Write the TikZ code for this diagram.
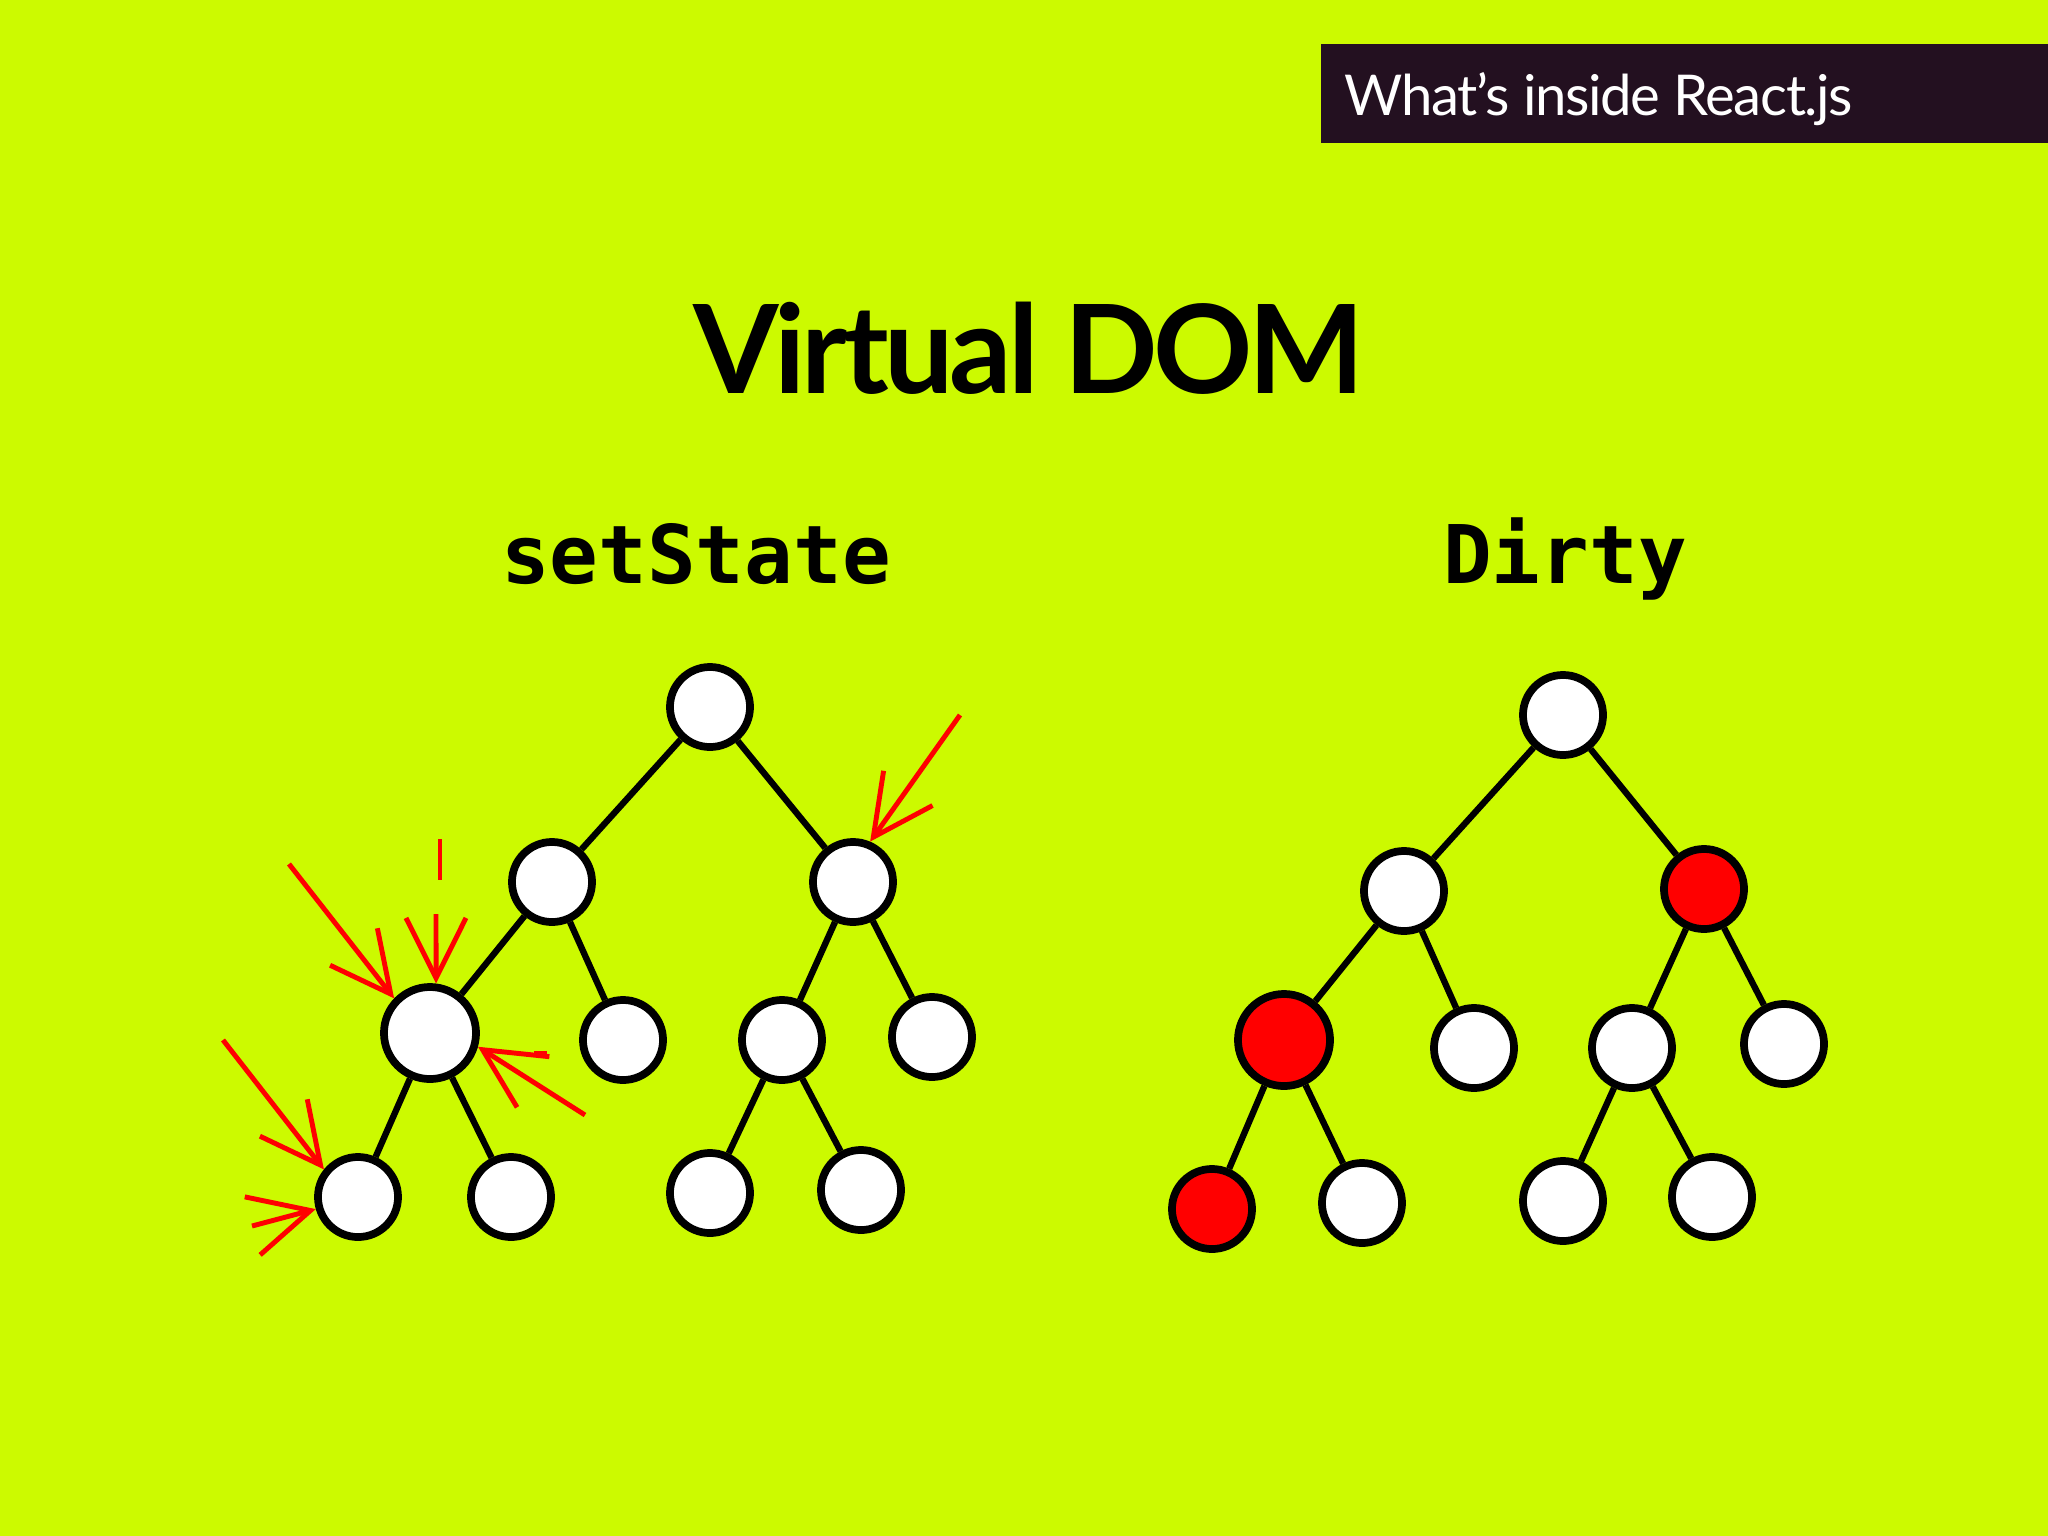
\documentclass[tikz,border=0pt]{standalone}
\usepackage{fontspec}
\setmainfont{Lato}
\newfontfamily\handfont{DejaVu Sans Mono}
\usetikzlibrary{arrows.meta, positioning}
\definecolor{lime}{RGB}{204,250,0}
\definecolor{banner}{RGB}{35,16,32}
\definecolor{dirtyred}{RGB}{255,0,0}

\begin{document}
\begin{tikzpicture}[
    x=0.01cm, y=-0.01cm,
    vnode/.style={
        circle, draw, line width=2.2pt, fill=white,
        minimum size=0.8cm, inner sep=0pt
    },
    bignode/.style={vnode, minimum size=0.92cm},
    dirty/.style={fill=dirtyred},
    edge/.style={line width=1.8pt},
    spark/.style={red, line width=1.4pt, -{Straight Barb[length=6mm, width=6mm]}},
    hand/.style={font=\handfont\bfseries\fontsize{23}{23}\selectfont, anchor=base},
]

\fill[lime] (0,0) rectangle (2048,1536);
\useasboundingbox (0,0) rectangle (2048,1536);

\fill[banner] (1321,44) rectangle (2048,143);
\node[anchor=base west, text=white, font=\fontsize{16}{16}\selectfont\addfontfeature{LetterSpace=-2.4}] (header) at (1332,115) {What’s inside React.js};

\node[anchor=base, font=\bfseries\fontsize{35}{35}\selectfont\addfontfeature{LetterSpace=-3.5}] (title) at (1029,393) {Virtual DOM};

\node[hand] (setstate) at (696,583) {setState};
\node[hand] (dirtylbl) at (1565,583) {Dirty};

\node[vnode]   (lroot) at (710,707) {};
\node[vnode]   (la)    at (552,882) {};
\node[vnode]   (lb)    at (853,882) {};
\node[bignode] (laa)   at (430,1033) {};
\node[vnode]   (lab)   at (623,1040) {};
\node[vnode]   (lba)   at (782,1040) {};
\node[vnode]   (lbb)   at (932,1037) {};
\node[vnode]   (laaa)  at (358,1197) {};
\node[vnode]   (laab)  at (511,1197) {};
\node[vnode]   (lbaa)  at (710,1193) {};
\node[vnode]   (lbab)  at (861,1190) {};

\node[vnode]          (rroot) at (1563,715) {};
\node[vnode]          (ra)    at (1404,891) {};
\node[vnode, dirty]   (rb)    at (1704,889) {};
\node[bignode, dirty] (raa)   at (1284,1040) {};
\node[vnode]          (rab)   at (1474,1048) {};
\node[vnode]          (rba)   at (1632,1048) {};
\node[vnode]          (rbb)   at (1784,1044) {};
\node[vnode, dirty]   (raaa)  at (1212,1209) {};
\node[vnode]          (raab)  at (1362,1203) {};
\node[vnode]          (rbaa)  at (1563,1201) {};
\node[vnode]          (rbab)  at (1712,1197) {};

\foreach \t in {l,r}
  \foreach \a/\b in {root/a, root/b, a/aa, a/ab, b/ba, b/bb, aa/aaa, aa/aab, ba/baa, ba/bab}
    \draw[edge] (\t\a) -- (\t\b);

\coordinate (sa) at (960,715);
\coordinate (sb) at (289,864);
\coordinate (sc) at (436,914);
\coordinate (sd) at (585,1115);
\coordinate (se) at (223,1040);
\coordinate (sf) at (252,1226);

\draw[spark] (sa) -- (lb.67);
\draw[spark] (sb) -- (laa.136);
\draw[spark] (sc) -- (laa.83);
\draw[spark] (sd) -- (laa.-16);
\draw[spark] (se) -- (laaa.141);
\draw[spark] (sf) -- (laaa.196);
\draw[red, line width=1.2pt] (440,839) -- (440,880);
\draw[red, line width=1.4pt] (534,1053) -- (547,1053);

\end{tikzpicture}
\end{document}
